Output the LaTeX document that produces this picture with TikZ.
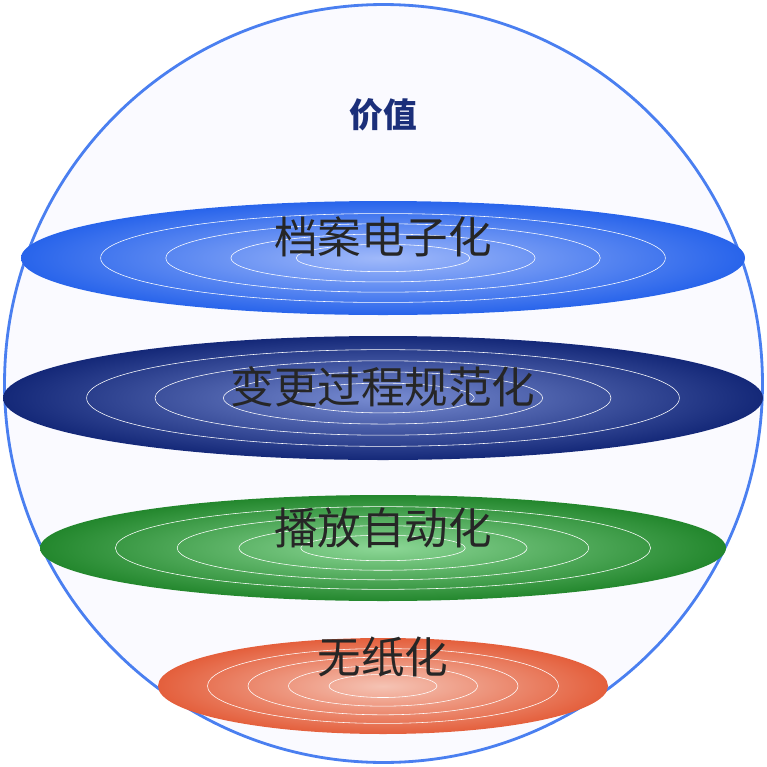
\documentclass[tikz,border=0pt]{standalone}
\usepackage{fontspec}
\newfontfamily\cjk{Noto Sans CJK SC}
\definecolor{rimblue}{HTML}{4A7FF0}
\definecolor{titleblue}{HTML}{1B2F7A}
\begin{document}
\begin{tikzpicture}[x=0.05cm,y=-0.05cm]
\tikzset{
  disc/.style={shading=radial},
  ring/.style={draw=white,line width=0.8pt},
  lbl/.style={font=\cjk\fontsize{62}{66}\selectfont,text=black!85}
}
\useasboundingbox (0,0) rectangle (767,767);
\node[draw=rimblue,line width=4pt,fill=blue!2,circle,minimum size=37.9cm,inner sep=0pt] (sphere) at (383.5,383.5) {};
\node[font=\cjk\bfseries\fontsize{48}{52}\selectfont,text=titleblue] (title) at (383,115) {价值};
% layer 1
\shade[disc,inner color={rgb,255:red,160;green,185;blue,250},outer color={rgb,255:red,40;green,100;blue,235}] (383,258) ellipse (362 and 57);
\foreach \r in {0.78,0.6,0.42,0.24}
  \draw[ring] (383,258) ellipse ({362*\r} and {57*\r});
\node[lbl] (l1) at (383,237) {档案电子化};
% layer 2
\shade[disc,inner color={rgb,255:red,120;green,140;blue,210},outer color={rgb,255:red,20;green,40;blue,120}] (383,398) ellipse (380 and 62);
\foreach \r in {0.78,0.6,0.42,0.24}
  \draw[ring] (383,398) ellipse ({380*\r} and {62*\r});
\node[lbl] (l2) at (383,387) {变更过程规范化};
% layer 3
\shade[disc,inner color={rgb,255:red,140;green,215;blue,150},outer color={rgb,255:red,35;green,135;blue,45}] (383,548) ellipse (343 and 53);
\foreach \r in {0.78,0.6,0.42,0.24}
  \draw[ring] (383,548) ellipse ({343*\r} and {53*\r});
\node[lbl] (l3) at (383,528) {播放自动化};
% layer 4
\shade[disc,inner color={rgb,255:red,245;green,195;blue,180},outer color={rgb,255:red,228;green,95;blue,60}] (383,686) ellipse (225 and 48);
\foreach \r in {0.78,0.6,0.42,0.24}
  \draw[ring] (383,686) ellipse ({225*\r} and {48*\r});
\node[lbl] (l4) at (383,657) {无纸化};
\end{tikzpicture}
\end{document}
